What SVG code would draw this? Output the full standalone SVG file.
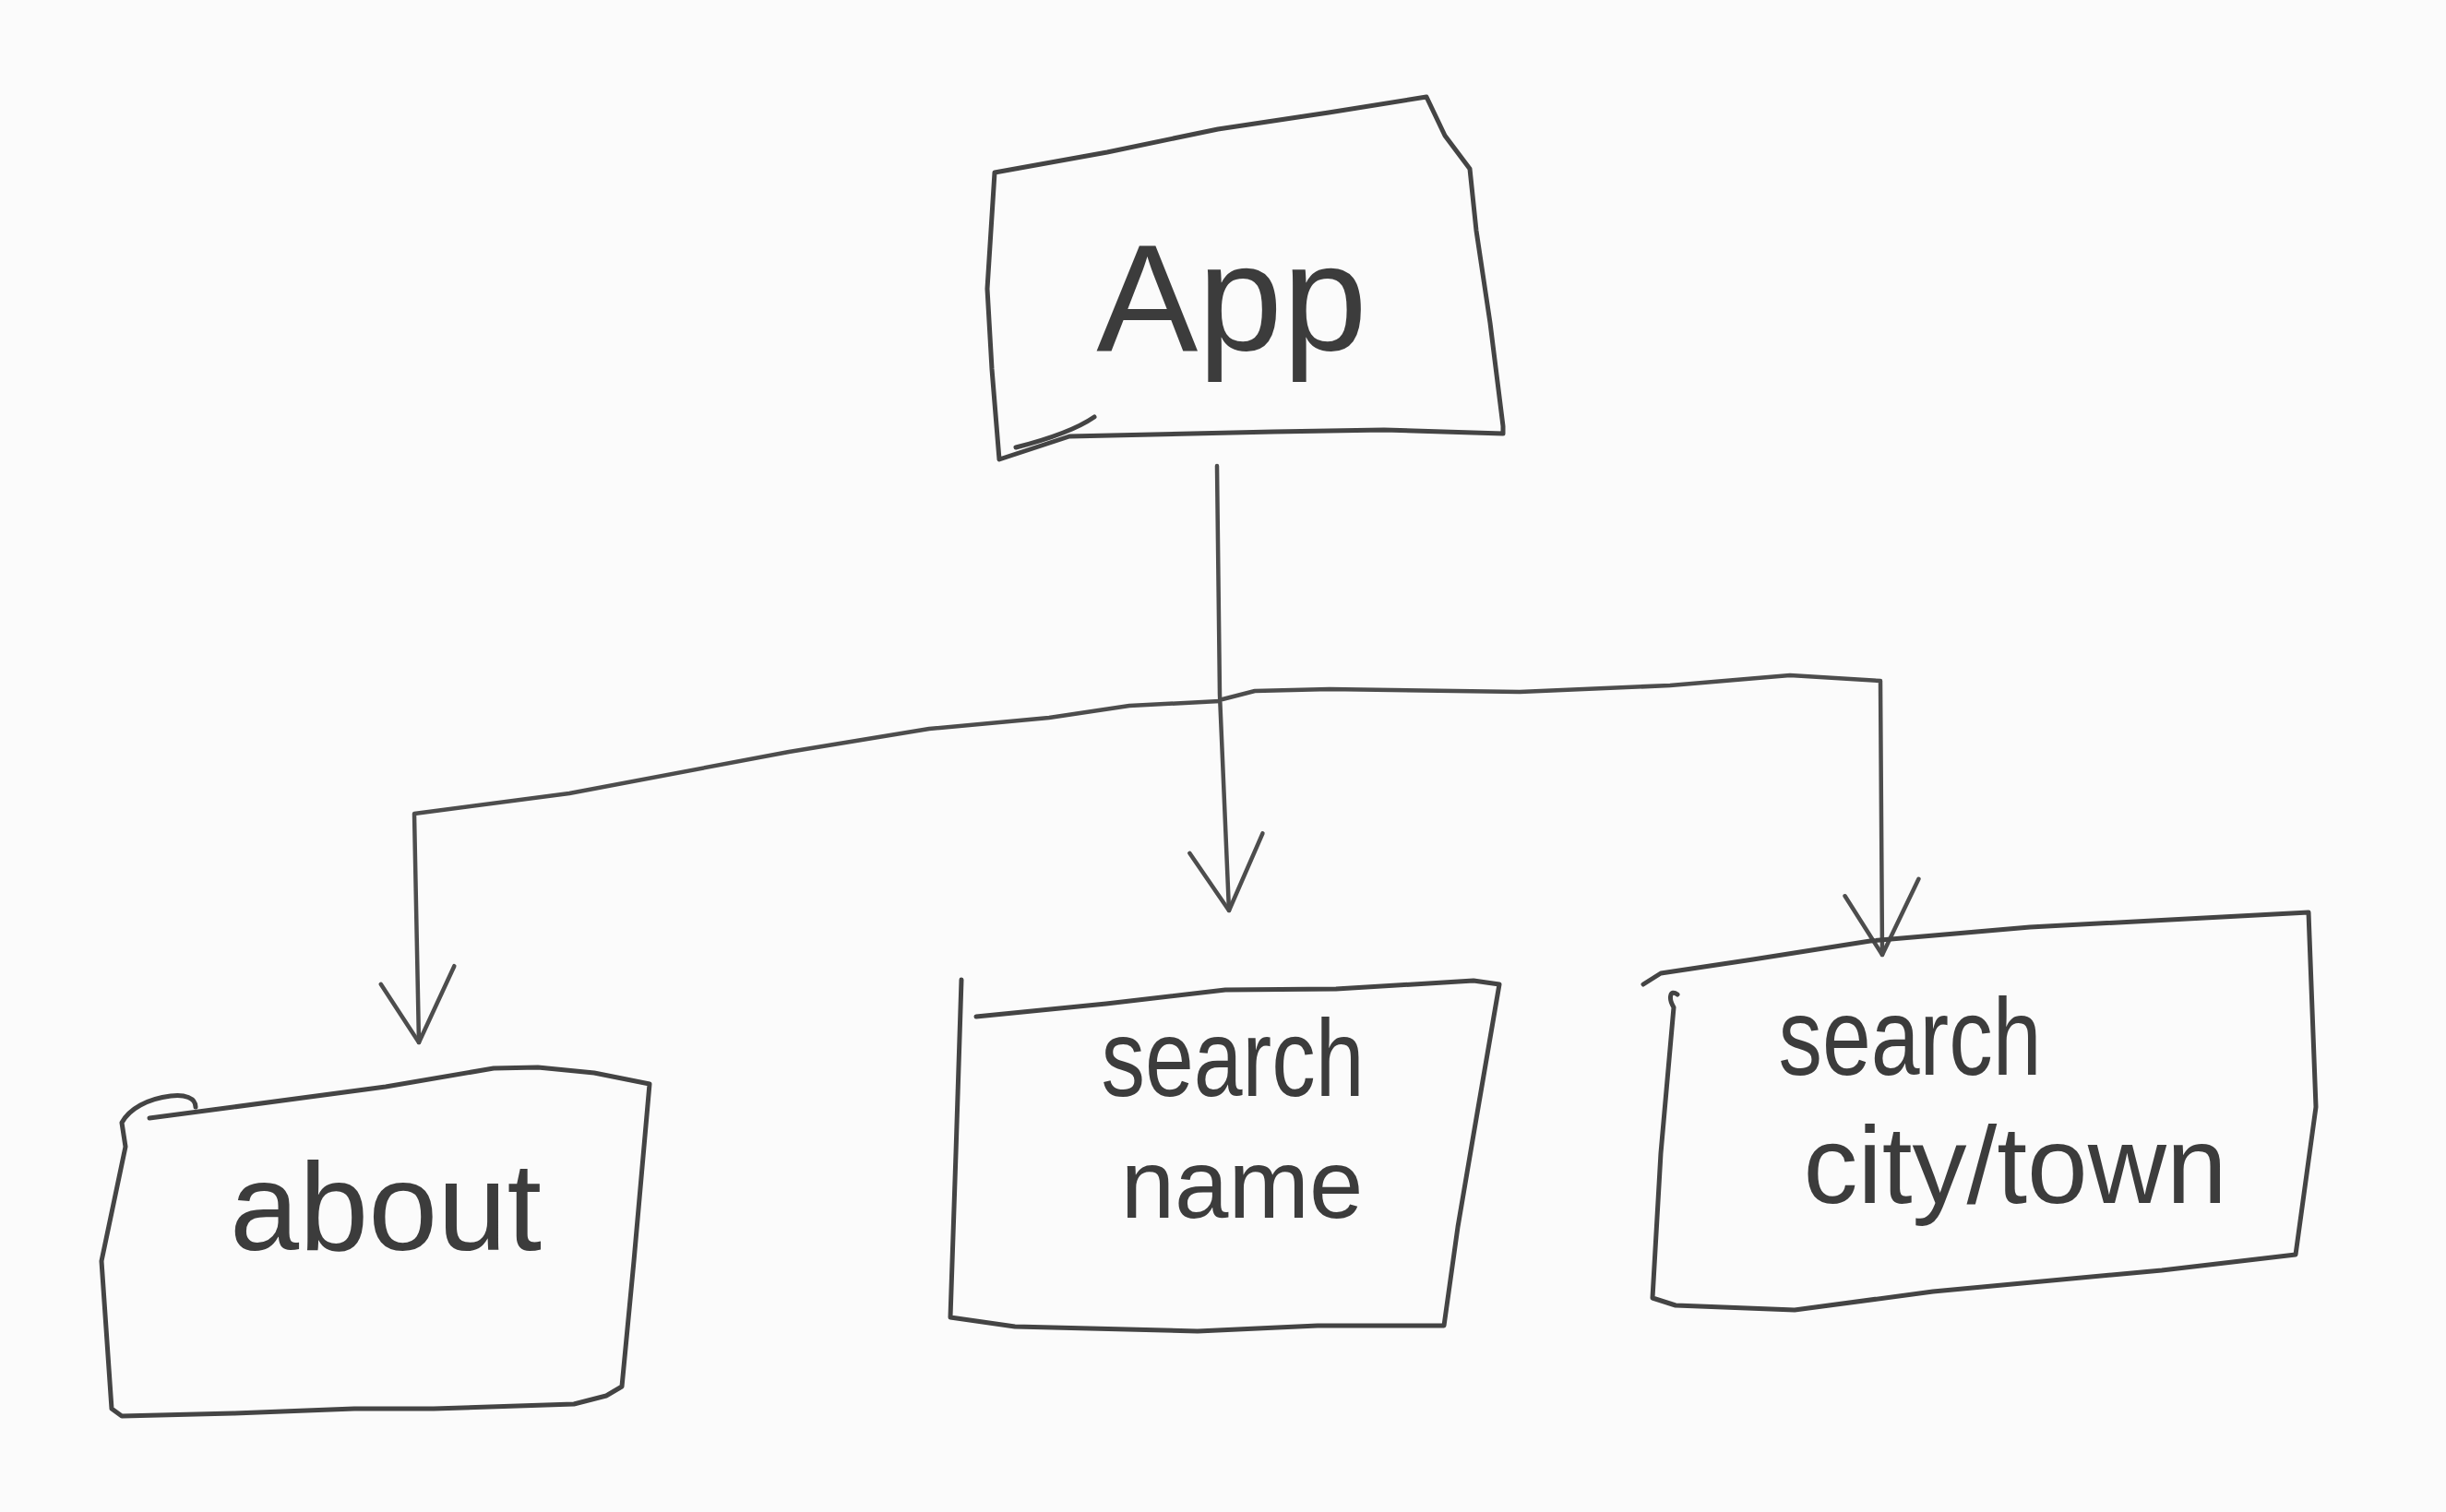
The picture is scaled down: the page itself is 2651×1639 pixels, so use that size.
<svg xmlns="http://www.w3.org/2000/svg" width="2651" height="1639" viewBox="0 0 2651 1639">
<style>
.box{fill:none;stroke:#444;stroke-width:5;stroke-linejoin:round;stroke-linecap:round}
.con{fill:none;stroke:#4d4d4d;stroke-width:4.5;stroke-linejoin:round;stroke-linecap:round}
.lbl{font-family:"Liberation Sans","DejaVu Sans",sans-serif;fill:#3c3c3c;text-anchor:middle;font-weight:normal}
</style>
<defs>
<marker id="v" markerUnits="userSpaceOnUse" markerWidth="120" markerHeight="120" viewBox="-100 -60 120 120" refX="0" refY="0" orient="auto">
<path d="M-82,-40 L0,0 L-64,40" fill="none" stroke="#4d4d4d" stroke-width="4.5" stroke-linejoin="round" stroke-linecap="round"/>
</marker>
</defs>
<rect width="2651" height="1639" fill="#fbfbfb"/>
<g id="connectors">
<path class="con" d="M1319,505 L1322,753 L1332,987" marker-end="url(#v)"/>
<path class="con" d="M1322,760 L1224,765 L1137,778 L1007,790 L855,815 L617,860 L449,882 L454,1130" marker-end="url(#v)"/>
<path class="con" d="M1325,758 L1360,749 L1441,747 L1647,750 L1810,743 L1940,732 L2038,738 L2040,1035" marker-end="url(#v)"/>
</g>
<g id="node-app">
<path class="box" d="M1078,187 L1200,165 L1320,140 L1440,122 L1546,105 L1566,147 L1593,183 L1600,250 L1615,350 L1629,462 L1629,470 L1500,466 L1380,468 L1159,473 L1083,498 L1075,400 L1070,313 Z"/>
<path class="box" d="M1101,485 Q1160,470 1186,452" stroke-width="3.5"/>
<text class="lbl" x="1335" y="380" font-size="165">App</text>
</g>
<g id="node-about">
<path class="box" d="M212,1200 C212,1190 200,1186 185,1188 C160,1191 140,1202 132,1217 L136,1243 L110,1367 L121,1527 L132,1535 L253,1532 L384,1527 L470,1527 L622,1522 L657,1513 L674,1503 L687,1367 L704,1175 L644,1163 L583,1157 L535,1158 L418,1178 L253,1200 L162,1212"/>
<text class="lbl" x="418" y="1355" font-size="135">about</text>
</g>
<g id="node-search-name">
<path class="box" d="M1042,1062 L1036,1250 L1030,1428 L1100,1438 L1298,1443 L1428,1437 L1565,1437 L1580,1330 L1597,1230 L1625,1067 L1597,1063 L1448,1072 L1328,1073 L1199,1088 L1058,1102"/>
<text class="lbl" x="1336" y="1188" font-size="118" textLength="285" lengthAdjust="spacingAndGlyphs">search</text>
<text class="lbl" x="1346" y="1320" font-size="105">name</text>
</g>
<g id="node-search-city">
<path class="box" d="M1781,1067 L1800,1055 L1900,1040 L2027,1020 L2200,1005 L2502,989 L2510,1200 L2488,1360 L2343,1377 L2095,1400 L1945,1420 L1816,1415 L1791,1407 L1800,1250 L1814,1092 C1808,1082 1810,1072 1818,1078"/>
<text class="lbl" x="2070" y="1165" font-size="118" textLength="285" lengthAdjust="spacingAndGlyphs">search</text>
<text class="lbl" x="2184" y="1304" font-size="118">city/town</text>
</g>
</svg>
